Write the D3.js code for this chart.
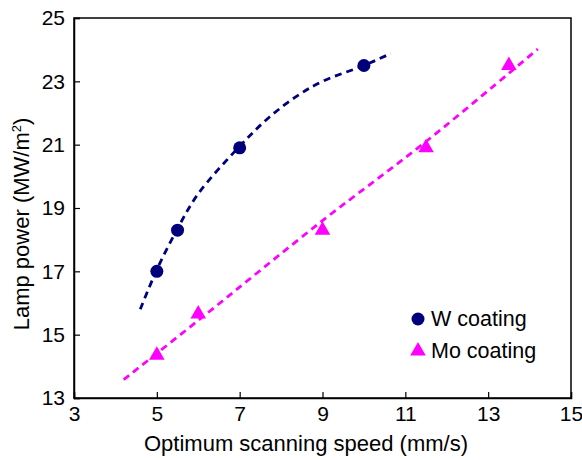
<!DOCTYPE html>
<html><head><meta charset="utf-8">
<script src="https://cdn.jsdelivr.net/npm/d3@7"></script>
<style>body{margin:0;background:#fff}svg{display:block}text{font-family:"Liberation Sans",Arial,sans-serif;fill:#000}</style>
</head><body>
<script>
const xTicks = [3,5,7,9,11,13,15];
const yTicks = [13,15,17,19,21,23,25];
const wX = [5,5.5,7,10];
const wY = [17.0,18.3,20.9,23.5];
const moX = [5,6,9,11.5,13.5];
const moY = [14.35,15.65,18.3,20.9,23.5];
const wTrendX = [4.6,5.0,5.5,6.0,7.0,7.7,8.4,9.0,10.0,10.65];
const wTrendY = [15.8,17.05,18.35,19.45,20.95,21.85,22.55,23.0,23.5,23.88];
const moTrendX = [4.2,6.0,9.0,11.5,14.2];
const moTrendY = [13.58,15.45,18.6,21.1,24.02];
const seriesNames = ["W coating","Mo coating"];

const W=582,H=460;
const svg=d3.select("body").append("svg").attr("width",W).attr("height",H);
const x=d3.scaleLinear().domain([3,15]).range([74,571]);
const y=d3.scaleLinear().domain([13,25]).range([398,18]);
const navy="#00007a", mag="#ff00ff";

svg.append("rect").attr("x",74).attr("y",18).attr("width",497).attr("height",380)
 .attr("fill","none").attr("stroke","#000").attr("stroke-width",1.5);

const xa=svg.append("g").attr("transform","translate(0,398)")
 .call(d3.axisBottom(x).tickValues(xTicks).tickSize(-6).tickPadding(8).tickFormat(d3.format("d")));
const ya=svg.append("g").attr("transform","translate(74,0)")
 .call(d3.axisLeft(y).tickValues(yTicks).tickSize(-6).tickPadding(9).tickFormat(d3.format("d")));
[xa,ya].forEach(g=>{g.select(".domain").attr("stroke","#000").attr("stroke-width",1.5);
 g.selectAll(".tick line").attr("stroke","#000").attr("stroke-width",1.2);
 g.selectAll(".tick text").attr("font-size",21).attr("font-family","Liberation Sans, Arial, sans-serif").attr("fill","#000");});

svg.append("text").attr("x",306).attr("y",451).attr("text-anchor","middle").attr("font-size",22)
 .text("Optimum scanning speed (mm/s)");
const yt=svg.append("text").attr("transform","translate(29,224) rotate(-90)").attr("text-anchor","middle").attr("font-size",22);
yt.append("tspan").text("Lamp power (MW/m");
yt.append("tspan").attr("font-size",13).attr("dy",-8).text("2");
yt.append("tspan").attr("dy",8).text(")");

const line=d3.line().x(d=>x(d[0])).y(d=>y(d[1])).curve(d3.curveCatmullRom);
svg.append("path").datum(wTrendX.map((v,i)=>[v,wTrendY[i]])).attr("d",line)
 .attr("fill","none").attr("stroke",navy).attr("stroke-width",2.8).attr("stroke-dasharray","7,5");
svg.append("path").datum(moTrendX.map((v,i)=>[v,moTrendY[i]])).attr("d",line)
 .attr("fill","none").attr("stroke",mag).attr("stroke-width",2.8).attr("stroke-dasharray","7,5");

svg.selectAll(".w").data(wX.map((v,i)=>[v,wY[i]])).enter().append("circle")
 .attr("cx",d=>x(d[0])).attr("cy",d=>y(d[1])).attr("r",6.5).attr("fill",navy);
const tri=d3.symbol().type(d3.symbolTriangle).size(105);
svg.selectAll(".m").data(moX.map((v,i)=>[v,moY[i]])).enter().append("path")
 .attr("d",tri).attr("transform",d=>`translate(${x(d[0])},${y(d[1])})`).attr("fill",mag);

svg.append("circle").attr("cx",418).attr("cy",319).attr("r",6.5).attr("fill",navy);
svg.append("path").attr("d",tri).attr("transform","translate(418,351)").attr("fill",mag);
svg.append("text").attr("x",431).attr("y",326).attr("font-size",21.5).text(seriesNames[0]);
svg.append("text").attr("x",431).attr("y",358).attr("font-size",21.5).text(seriesNames[1]);
</script>
</body></html>
